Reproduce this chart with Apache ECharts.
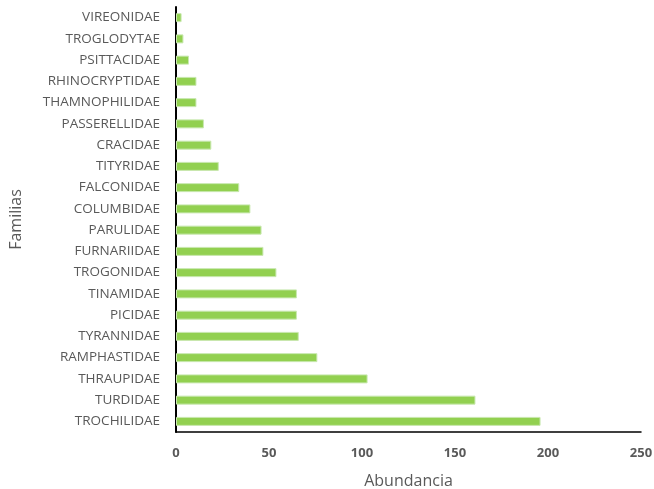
<!DOCTYPE html>
<html>
<head>
<meta charset="utf-8">
<script src="https://cdn.jsdelivr.net/npm/echarts@6/dist/echarts.min.js"></script>
<style>
  html, body { margin: 0; padding: 0; background: #fff; }
  #chart { width: 654px; height: 489px; }
</style>
</head>
<body>
<div id="chart"></div>
<script>
// Bird families, listed bottom-to-top as they appear on the category axis
const familias = [
  'TROCHILIDAE', 'TURDIDAE', 'THRAUPIDAE', 'RAMPHASTIDAE', 'TYRANNIDAE',
  'PICIDAE', 'TINAMIDAE', 'TROGONIDAE', 'FURNARIIDAE', 'PARULIDAE',
  'COLUMBIDAE', 'FALCONIDAE', 'TITYRIDAE', 'CRACIDAE', 'PASSERELLIDAE',
  'THAMNOPHILIDAE', 'RHINOCRYPTIDAE', 'PSITTACIDAE', 'TROGLODYTAE', 'VIREONIDAE'
];
// Number of individuals recorded per family
const abundancia = [
  196, 161, 103, 76, 66,
  65, 65, 54, 47, 46,
  40, 34, 23, 19, 15,
  11, 11, 7, 4, 3
];
const xTicks = [0, 50, 100, 150, 200, 250];

const chart = echarts.init(document.getElementById('chart'), null, { renderer: 'canvas' });
const font = "'Open Sans', 'Noto Sans', sans-serif";
chart.setOption({
  animation: false,
  backgroundColor: '#ffffff',
  grid: {
    left: 176, right: 13, top: 7, bottom: 57,
    containLabel: false,
    outerBoundsMode: 'none'
  },
  xAxis: {
    type: 'value',
    min: xTicks[0],
    max: xTicks[xTicks.length - 1],
    interval: 50,
    name: 'Abundancia',
    nameLocation: 'middle',
    nameGap: 41,
    nameTextStyle: { color: '#595959', fontSize: 16, fontFamily: font },
    axisLine: { show: true, lineStyle: { color: '#000000', width: 1.5 } },
    axisTick: { show: false },
    splitLine: { show: false },
    axisLabel: { color: '#595959', fontSize: 13, fontWeight: 'bold', fontFamily: font, margin: 15 }
  },
  yAxis: {
    type: 'category',
    data: familias,
    name: 'Familias',
    nameLocation: 'middle',
    nameGap: 152,
    nameRotate: 90,
    nameTextStyle: { color: '#595959', fontSize: 16, fontFamily: font },
    axisLine: { show: true, lineStyle: { color: '#000000', width: 2 } },
    axisTick: { show: false },
    axisLabel: { color: '#595959', fontSize: 13.5, fontFamily: font, margin: 16 }
  },
  series: [{
    type: 'bar',
    data: abundancia,
    barWidth: 9,
    itemStyle: {
      color: '#92D050',
      borderColor: '#c9e8b0',
      borderWidth: 1
    }
  }]
});
</script>
</body>
</html>
